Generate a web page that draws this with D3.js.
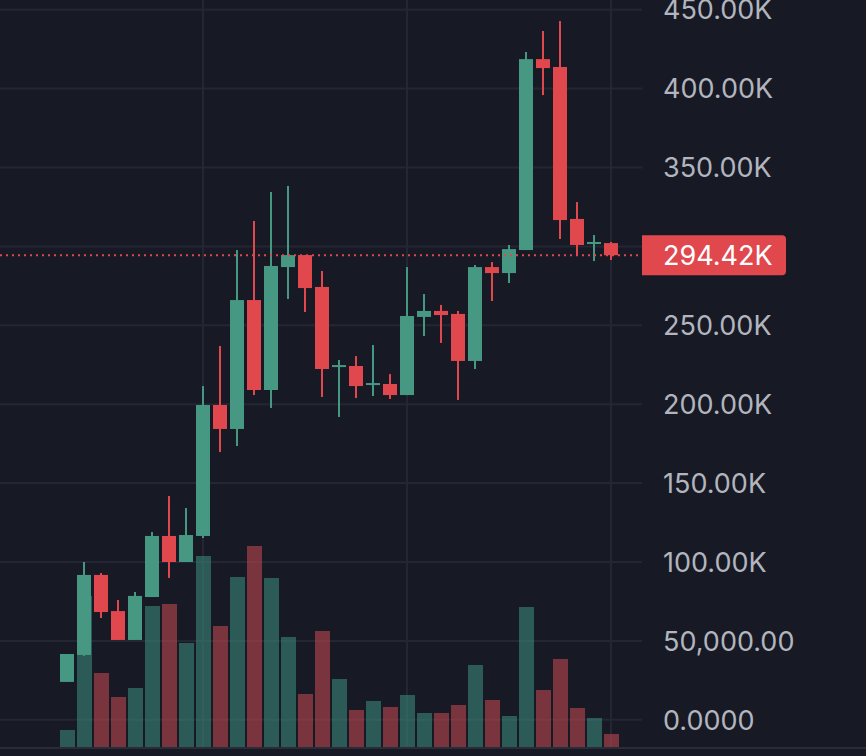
<!DOCTYPE html>
<html>
<head>
<meta charset="utf-8">
<script src="https://cdn.jsdelivr.net/npm/d3@7"></script>
<style>
	html, body {margin:0; padding:0; background:#171a25;}
	svg {display:block;}
</style>
</head>
<body>
<div class="c_chart"></div>
<script>

/*DATA
------------------------------------------------------
------------------------------------------------------
*/

const opens  = [24000, 41100, 91800, 68900, 50600, 77800, 116500, 100000, 116500, 199500, 184300, 266000, 209000, 286900, 294500, 274300, 223600, 224200, 212200, 212800, 205800, 255300, 259100, 257200, 227400, 286900, 283100, 297700, 418700, 413700, 317400, 301500, 302100];
const highs  = [41700, 100000, 93000, 75900, 81000, 119000, 141800, 134200, 211500, 236900, 297700, 316100, 334500, 338300, 294500, 284400, 228000, 230500, 237500, 219100, 286900, 269800, 262900, 259100, 288200, 290100, 300900, 423200, 436500, 442800, 328100, 307200, 302800];
const lows   = [24000, 40500, 64500, 50600, 50600, 77800, 89900, 100000, 115200, 169700, 173500, 205800, 197600, 266700, 258400, 204600, 191900, 203900, 205200, 203300, 205800, 243200, 238800, 202700, 222300, 265400, 276800, 297700, 395900, 304700, 294500, 290700, 291400];
const closes = [41700, 91800, 68300, 50600, 78500, 116500, 100000, 117100, 199500, 184300, 266000, 209000, 287600, 294500, 273600, 222300, 224800, 211500, 213400, 205800, 255900, 259100, 256500, 227400, 286900, 283100, 298300, 418700, 413000, 316700, 300900, 302800, 294420];
const volumes = [1700, 15100, 7400, 5000, 5900, 14100, 14300, 10400, 19100, 12100, 17000, 20100, 16900, 11000, 5300, 11600, 6800, 3700, 4600, 4000, 5200, 3400, 3400, 4200, 8200, 4700, 3100, 14000, 5700, 8800, 3900, 2900, 1300];

const priceTicks = [0, 50000, 100000, 150000, 200000, 250000, 300000, 350000, 400000, 450000];
const timeTicks = [8, 20, 32];


/*INITIATE
------------------------------------------------------
------------------------------------------------------
*/

let width = 866;
let height = 756;
const paneRight = 642;
const paneBottom = 748;

const upColor = "#469882";
const downColor = "#e0484e";
const upVol = "rgba(58,130,118,0.62)";
const downVol = "rgba(186,70,80,0.60)";
const gridColor = "#242733";
const textColor = "#b2b5be";

let svg = d3.select(".c_chart")
	.append("svg")
	.attr("width", width)
	.attr("height", height);

svg.append("rect")
	.attr("width", width)
	.attr("height", height)
	.attr("fill", "#171a25");


/*SCALES
------------------------------------------------------
------------------------------------------------------
*/

const x = d3.scaleBand()
	.domain(d3.range(closes.length))
	.range([58.5, 619.5])
	.padding(0);

const y = d3.scaleLinear()
	.domain([0, 450000])
	.range([719.8, 9.7]);

const yVol = d3.scaleLinear()
	.domain([0, 25000])
	.range([747, 497]);

const cx = i => x(i) + x.bandwidth() / 2;

const fmt = v => {
	if (v === 0) return "0.0000";
	if (v < 100000) return d3.format(",.2f")(v);
	return d3.format(".2f")(v / 1000) + "K";
};

const last = closes[closes.length - 1];
const ly = y(last);


/*GRID
------------------------------------------------------
------------------------------------------------------
*/

let grid = svg.append("g");

grid.selectAll(".hgrid")
	.data(priceTicks)
	.enter()
	.append("line")
	.attr("x1", 0)
	.attr("x2", paneRight)
	.attr("y1", d => y(d))
	.attr("y2", d => y(d))
	.attr("stroke", gridColor)
	.attr("stroke-width", 2);

grid.selectAll(".vgrid")
	.data(timeTicks)
	.enter()
	.append("line")
	.attr("x1", d => cx(d))
	.attr("x2", d => cx(d))
	.attr("y1", 0)
	.attr("y2", paneBottom)
	.attr("stroke", gridColor)
	.attr("stroke-width", 2);

svg.append("line")
	.attr("x1", 0)
	.attr("x2", width)
	.attr("y1", paneBottom)
	.attr("y2", paneBottom)
	.attr("stroke", "#2a2d38")
	.attr("stroke-width", 2);


/*VOLUME
------------------------------------------------------
------------------------------------------------------
*/

svg.append("g")
	.selectAll("rect")
	.data(volumes)
	.enter()
	.append("rect")
	.attr("x", (d, i) => cx(i) - 7)
	.attr("width", 15)
	.attr("y", d => yVol(d))
	.attr("height", d => yVol(0) - yVol(d))
	.attr("fill", (d, i) => closes[i] >= opens[i] ? upVol : downVol);


/*CANDLES
------------------------------------------------------
------------------------------------------------------
*/

let candles = svg.append("g")
	.selectAll("g")
	.data(closes)
	.enter()
	.append("g");

candles.append("rect") //mèche
	.attr("x", (d, i) => cx(i) - 1)
	.attr("width", 2)
	.attr("y", (d, i) => y(highs[i]))
	.attr("height", (d, i) => y(lows[i]) - y(highs[i]))
	.attr("fill", (d, i) => d >= opens[i] ? upColor : downColor);

candles.append("rect") //corps
	.attr("x", (d, i) => cx(i) - 7)
	.attr("width", 14)
	.attr("y", (d, i) => y(Math.max(d, opens[i])))
	.attr("height", (d, i) => Math.max(2, Math.abs(y(d) - y(opens[i]))))
	.attr("fill", (d, i) => d >= opens[i] ? upColor : downColor);


/*PRICE AXIS
------------------------------------------------------
------------------------------------------------------
*/

// les étiquettes cachées par l'étiquette du dernier prix ne sont pas dessinées
svg.append("g")
	.selectAll("text")
	.data(priceTicks.filter(d => Math.abs(y(d) - ly) > 30))
	.enter()
	.append("text")
	.attr("x", 663)
	.attr("y", d => y(d))
	.attr("dy", "0.36em")
	.attr("fill", textColor)
	.style("font-family", "Inter, 'Noto Sans', sans-serif")
	.style("font-size", "27px")
	.text(d => fmt(d));


/*LAST PRICE
------------------------------------------------------
------------------------------------------------------
*/

svg.append("line")
	.attr("x1", 0)
	.attr("x2", paneRight)
	.attr("y1", ly)
	.attr("y2", ly)
	.attr("stroke", downColor)
	.attr("stroke-width", 2)
	.attr("stroke-dasharray", "2,4");

const bx0 = paneRight, bx1 = 786, by0 = ly - 20, by1 = ly + 20, r = 4;

svg.append("path")
	.attr("d", `M${bx0},${by0} H${bx1 - r} Q${bx1},${by0} ${bx1},${by0 + r} V${by1 - r} Q${bx1},${by1} ${bx1 - r},${by1} H${bx0} Z`)
	.attr("fill", downColor);

svg.append("text")
	.attr("x", 663)
	.attr("y", ly)
	.attr("dy", "0.36em")
	.attr("fill", "#ffffff")
	.style("font-family", "Inter, 'Noto Sans', sans-serif")
	.style("font-size", "27px")
	.text(fmt(last));

</script>
</body>
</html>
